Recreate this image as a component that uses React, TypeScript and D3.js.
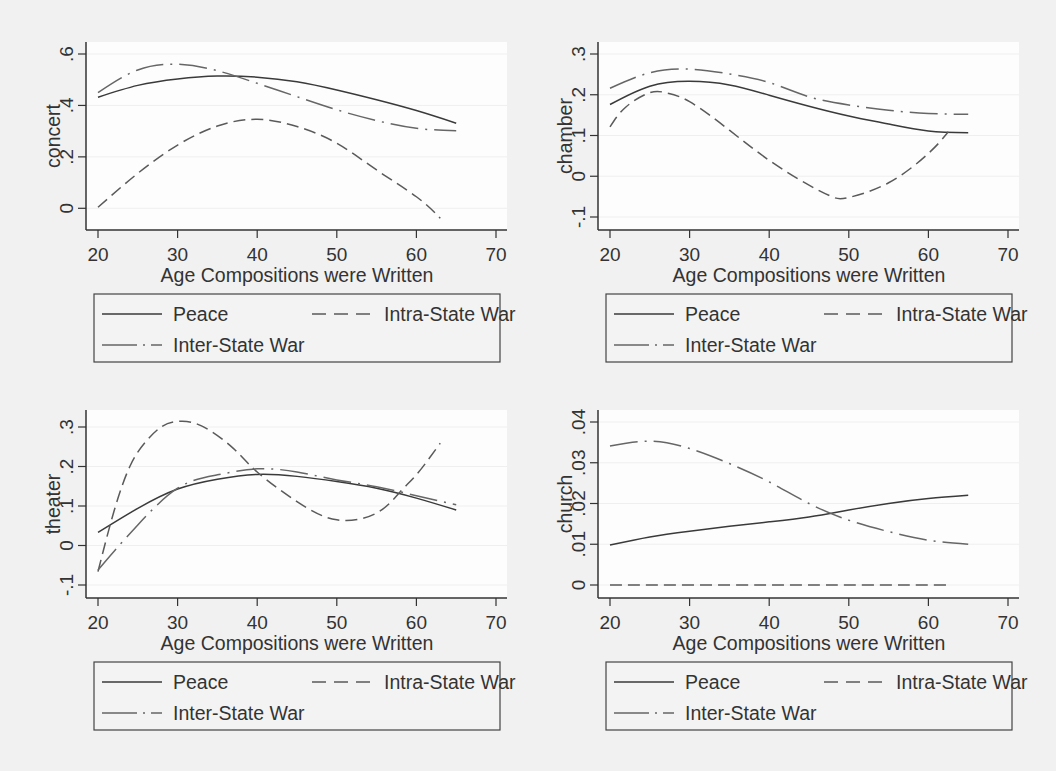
import React from "react";
import * as d3 from "d3";

// ---- data ----
const ages = [20, 25, 30, 35, 40, 45, 50, 55, 60, 65];

const concertPeace = [0.432, 0.478, 0.503, 0.514, 0.51, 0.492, 0.46, 0.422, 0.38, 0.331];
const concertInter = [0.45, 0.538, 0.56, 0.535, 0.486, 0.434, 0.383, 0.341, 0.311, 0.302];
const concertIntraAges = [20, 25, 30, 35, 40, 45, 50, 55, 60, 63];
const concertIntra = [0.004, 0.136, 0.246, 0.32, 0.346, 0.318, 0.253, 0.149, 0.045, -0.039];

const chamberPeace = [0.176, 0.221, 0.233, 0.224, 0.199, 0.172, 0.148, 0.128, 0.111, 0.107];
const chamberInter = [0.216, 0.254, 0.263, 0.251, 0.23, 0.195, 0.175, 0.162, 0.154, 0.152];
const chamberIntraAges = [20, 22, 25, 27, 30, 35, 40, 45, 48, 50, 55, 60, 62.5];
const chamberIntra = [0.121, 0.17, 0.205, 0.205, 0.183, 0.113, 0.039, -0.022, -0.051, -0.052, -0.016, 0.056, 0.109];

const theaterPeaceAges = ages;
const theaterPeace = [0.033, 0.094, 0.143, 0.168, 0.18, 0.175, 0.162, 0.145, 0.12, 0.09];
const theaterInterAges = [20, 22, 25, 30, 35, 40, 45, 50, 55, 60, 65];
const theaterInter = [-0.062, -0.015, 0.052, 0.145, 0.179, 0.194, 0.186, 0.166, 0.149, 0.126, 0.103];
const theaterIntraAges = [20, 22, 24, 26, 28, 30, 33, 37, 40, 45, 50, 55, 58, 60, 63];
const theaterIntra = [-0.066, 0.086, 0.2, 0.263, 0.301, 0.314, 0.303, 0.246, 0.186, 0.111, 0.065, 0.082, 0.137, 0.179, 0.259];

const churchPeace = [0.0098, 0.0118, 0.0132, 0.0144, 0.0155, 0.0167, 0.0184, 0.02, 0.0212, 0.022];
const churchInter = [0.0341, 0.0353, 0.0335, 0.0298, 0.0253, 0.02, 0.0159, 0.0131, 0.011, 0.01];
const churchIntraAges = [20, 30, 40, 50, 62.5];
const churchIntra = [0, 0, 0, 0, 0];

const xTicks = [20, 30, 40, 50, 60, 70];
const xTitle = "Age Compositions were Written";
const legendLabels = ["Peace", "Intra-State War", "Inter-State War"];

const concertTicks = [0, 0.2, 0.4, 0.6];
const concertTickLabels = ["0", ".2", ".4", ".6"];
const chamberTicks = [-0.1, 0, 0.1, 0.2, 0.3];
const chamberTickLabels = ["-.1", "0", ".1", ".2", ".3"];
const theaterTicks = [-0.1, 0, 0.1, 0.2, 0.3];
const theaterTickLabels = ["-.1", "0", ".1", ".2", ".3"];
const churchTicks = [0, 0.01, 0.02, 0.03, 0.04];
const churchTickLabels = ["0", ".01", ".02", ".03", ".04"];

// ---- styles ----
const FONT = "'Liberation Sans', Arial, sans-serif";
const STYLES = {
  peace: { stroke: "#3a3a3a", dash: "none" },
  intra: { stroke: "#5a5a5a", dash: "12,6" },
  inter: { stroke: "#666666", dash: "28,7,2,7" },
};

type Series = { xs: number[]; ys: number[]; style: keyof typeof STYLES };

type PanelProps = {
  ox: number;
  oy: number;
  title: string;
  yTop: number;
  yBot: number;
  yTopVal: number;
  yBotVal: number;
  ticks: number[];
  tickLabels: string[];
  series: Series[];
};

function Panel(p: PanelProps) {
  const axisX = 86;
  const plotTop = 42;
  const plotBottom = 230;
  const plotRight = 507;
  const x = d3.scaleLinear().domain([20, 70]).range([98, 496]);
  const y = d3.scaleLinear().domain([p.yBotVal, p.yTopVal]).range([p.yBot, p.yTop]);
  const line = d3
    .line<[number, number]>()
    .x((d) => x(d[0]))
    .y((d) => y(d[1]))
    .curve(d3.curveNatural);
  const midY = (plotTop + plotBottom) / 2;
  const legTop = 294;
  const legBot = 362;
  const legL = axisX + 8;
  const legR = axisX + 414;
  const row1 = 314;
  const row2 = 345;
  return (
    <g transform={`translate(${p.ox},${p.oy})`}>
      <rect x={axisX} y={plotTop} width={plotRight - axisX} height={plotBottom - plotTop} fill="#fdfdfd" />
      {p.ticks.map((t, i) => (
        <line key={"g" + i} x1={axisX} x2={plotRight} y1={y(t)} y2={y(t)} stroke="#efefef" strokeWidth={1} />
      ))}
      {p.series.map((s, i) => (
        <path
          key={"s" + i}
          d={line(s.xs.map((v, j) => [v, s.ys[j]] as [number, number])) || ""}
          fill="none"
          stroke={STYLES[s.style].stroke}
          strokeWidth={1.5}
          strokeDasharray={STYLES[s.style].dash}
        />
      ))}
      <line x1={axisX} x2={axisX} y1={plotTop} y2={plotBottom} stroke="#333" strokeWidth={1.5} />
      <line x1={axisX} x2={plotRight} y1={plotBottom} y2={plotBottom} stroke="#333" strokeWidth={1.5} />
      {p.ticks.map((t, i) => (
        <g key={"yt" + i}>
          <line x1={axisX - 8} x2={axisX} y1={y(t)} y2={y(t)} stroke="#333" strokeWidth={1.2} />
          <text
            transform={`translate(${axisX - 13},${y(t)}) rotate(-90)`}
            textAnchor="middle"
            fontFamily={FONT}
            fontSize={19}
            fill="#333"
          >
            {p.tickLabels[i]}
          </text>
        </g>
      ))}
      <text
        transform={`translate(${axisX - 26},${midY}) rotate(-90)`}
        textAnchor="middle"
        fontFamily={FONT}
        fontSize={19.5}
        fill="#333"
      >
        {p.title}
      </text>
      {xTicks.map((t) => (
        <g key={"xt" + t}>
          <line x1={x(t)} x2={x(t)} y1={plotBottom} y2={plotBottom + 8} stroke="#333" strokeWidth={1.2} />
          <text x={x(t)} y={261} textAnchor="middle" fontFamily={FONT} fontSize={19} fill="#333">
            {t}
          </text>
        </g>
      ))}
      <text x={(x(20) + x(70)) / 2} y={282} textAnchor="middle" fontFamily={FONT} fontSize={19.5} fill="#333">
        {xTitle}
      </text>
      <rect x={legL} y={legTop} width={legR - legL} height={legBot - legTop} fill="#f3f3f3" stroke="#444" strokeWidth={1.2} />
      <line x1={axisX + 16} x2={axisX + 76} y1={row1} y2={row1} stroke={STYLES.peace.stroke} strokeWidth={1.5} />
      <text x={axisX + 87} y={row1 + 7} fontFamily={FONT} fontSize={19.5} fill="#333">
        {legendLabels[0]}
      </text>
      <line
        x1={axisX + 226}
        x2={axisX + 285}
        y1={row1}
        y2={row1}
        stroke={STYLES.intra.stroke}
        strokeWidth={1.5}
        strokeDasharray="14,8"
      />
      <text x={axisX + 298} y={row1 + 7} fontFamily={FONT} fontSize={19.5} fill="#333">
        {legendLabels[1]}
      </text>
      <line
        x1={axisX + 16}
        x2={axisX + 76}
        y1={row2}
        y2={row2}
        stroke={STYLES.inter.stroke}
        strokeWidth={1.5}
        strokeDasharray="35,6,2,6"
      />
      <text x={axisX + 87} y={row2 + 7} fontFamily={FONT} fontSize={19.5} fill="#333">
        {legendLabels[2]}
      </text>
    </g>
  );
}

export default function App() {
  return (
    <svg
      width={1056}
      height={771}
      style={{ position: "absolute", left: 0, top: 0, display: "block" }}
    >
      <rect x={0} y={0} width={1056} height={771} fill="#f1f1f1" />
      <Panel
        ox={0}
        oy={0}
        title="concert"
        yTop={54}
        yBot={208.3}
        yTopVal={0.6}
        yBotVal={0}
        ticks={concertTicks}
        tickLabels={concertTickLabels}
        series={[
          { xs: ages, ys: concertPeace, style: "peace" },
          { xs: concertIntraAges, ys: concertIntra, style: "intra" },
          { xs: ages, ys: concertInter, style: "inter" },
        ]}
      />
      <Panel
        ox={512}
        oy={0}
        title="chamber"
        yTop={54}
        yBot={217}
        yTopVal={0.3}
        yBotVal={-0.1}
        ticks={chamberTicks}
        tickLabels={chamberTickLabels}
        series={[
          { xs: ages, ys: chamberPeace, style: "peace" },
          { xs: chamberIntraAges, ys: chamberIntra, style: "intra" },
          { xs: ages, ys: chamberInter, style: "inter" },
        ]}
      />
      <Panel
        ox={0}
        oy={368}
        title="theater"
        yTop={59}
        yBot={217}
        yTopVal={0.3}
        yBotVal={-0.1}
        ticks={theaterTicks}
        tickLabels={theaterTickLabels}
        series={[
          { xs: theaterPeaceAges, ys: theaterPeace, style: "peace" },
          { xs: theaterIntraAges, ys: theaterIntra, style: "intra" },
          { xs: theaterInterAges, ys: theaterInter, style: "inter" },
        ]}
      />
      <Panel
        ox={512}
        oy={368}
        title="church"
        yTop={54}
        yBot={217}
        yTopVal={0.04}
        yBotVal={0}
        ticks={churchTicks}
        tickLabels={churchTickLabels}
        series={[
          { xs: ages, ys: churchPeace, style: "peace" },
          { xs: churchIntraAges, ys: churchIntra, style: "intra" },
          { xs: ages, ys: churchInter, style: "inter" },
        ]}
      />
    </svg>
  );
}
